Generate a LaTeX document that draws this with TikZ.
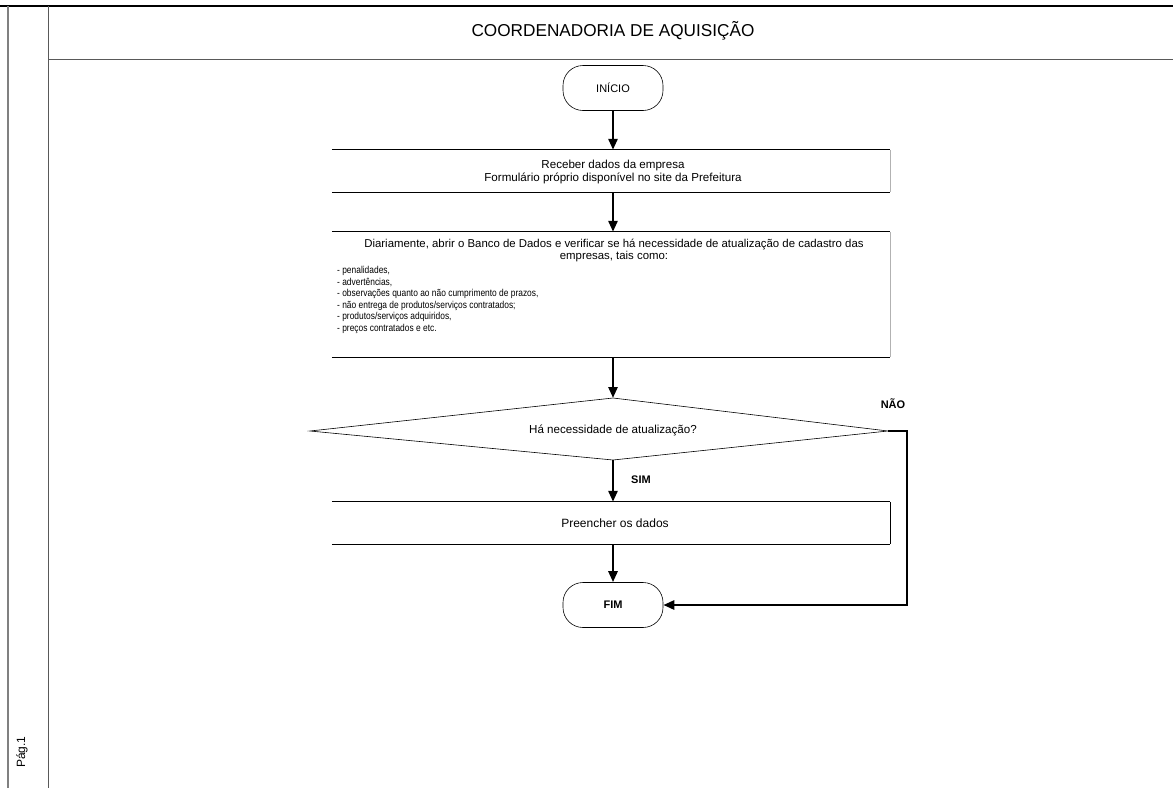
\documentclass[tikz,border=0pt]{standalone}
\usepackage{fontspec}
\setmainfont{Liberation Sans}
\newfontfamily\listfont[FakeStretch=0.84]{Liberation Sans}
\usetikzlibrary{arrows.meta}
\begin{document}
\begin{tikzpicture}[x=1pt,y=-1pt,
  txt/.style={font=\fontsize{11.6}{13.5}\selectfont, inner sep=0pt},
  term/.style={draw, line width=0.6pt, rounded corners=20pt, minimum width=100pt, minimum height=45pt, font=\fontsize{11}{12}\selectfont},
  boxnode/.style={draw=none, minimum width=558pt, inner sep=0pt},
  hline/.style={line width=0.8pt},
  sline/.style={line width=0.5pt, gray!60},
  flow/.style={line width=2.6pt, -{Triangle[length=11pt,width=9pt]}},
  lbl/.style={font=\bfseries\fontsize{11}{12}\selectfont, inner sep=0pt}
]
\useasboundingbox (0,0) rectangle (1173,788);
% frame
\draw[line width=1.2pt] (0,6) -- (1173,6);
\draw[line width=1.6pt, gray] (8,6) -- (8,788);
\draw[line width=0.6pt, gray!70!black] (48,6) -- (48,788);
\draw[line width=1pt, gray!70!black] (48,59) -- (1173,59);
\node[font=\fontsize{17.2}{19}\selectfont, inner sep=0pt] (title) at (613,31) {COORDENADORIA DE AQUISIÇÃO};
\node[font=\fontsize{12}{13}\selectfont, inner sep=0pt, rotate=90] (pag) at (22,752) {Pág.1};

% start
\node[term] (ini) at (613,88) {INÍCIO};

% box 1
\node[boxnode, minimum height=42pt] (b1) at (611,171) {};
\node[txt, align=center] (t1) at (613,172) {Receber dados da empresa\\Formulário próprio disponível no site da Prefeitura};
\draw[hline] (b1.north west) -- (b1.north east);
\draw[hline] (b1.south west) -- (b1.south east);
\draw[sline] (b1.north east) -- (b1.south east);

% box 2
\node[boxnode, minimum height=125pt] (b2) at (611,294.5) {};
\node[txt, font=\fontsize{11.4}{12.5}\selectfont, align=center, anchor=north] (t2a) at (614,238.5) {Diariamente, abrir o Banco de Dados e verificar se há necessidade de atualização de cadastro das\\empresas, tais como:};
\node[inner sep=0pt, anchor=north west, align=left, font=\listfont\fontsize{10}{11.5}\selectfont] (t2b) at (337,266.5) {%
- penalidades,\\
- advertências,\\
- observações quanto ao não cumprimento de prazos,\\
- não entrega de produtos/serviços contratados;\\
- produtos/serviços adquiridos,\\
- preços contratados e etc.};
\draw[hline] (b2.north west) -- (b2.north east);
\draw[hline] (b2.south west) -- (b2.south east);
\draw[sline] (b2.north east) -- (b2.south east);

% decision (drawn directly, asymmetric)
\coordinate (dT) at (613,398);
\coordinate (dR) at (888,431);
\coordinate (dB) at (613,460);
\coordinate (dL) at (310,431);
\draw[line width=0.6pt] (dT) -- (dR) -- (dB) -- (dL) -- cycle;
\node[txt] (d) at (613,430) {Há necessidade de atualização?};

% box 3
\node[boxnode, minimum height=42pt] (b3) at (611,523) {};
\node[txt, font=\fontsize{12}{13}\selectfont] (t3) at (615,523) {Preencher os dados};
\draw[hline] (b3.north west) -- (b3.north east);
\draw[hline] (b3.south west) -- (b3.south east);
\draw[line width=0.6pt] (b3.north east) -- (b3.south east);

% end
\node[term] (fim) at (613,605) {\bfseries FIM};

% connectors
\draw[flow] (ini.south) -- (b1.north -| ini.south);
\draw[flow] (b1.south -| ini.south) -- (b2.north -| ini.south);
\draw[flow] (b2.south -| ini.south) -- (dT);
\draw[flow] (dB) -- (b3.north -| dB);
\draw[flow] (b3.south -| ini.south) -- (fim.north);
\coordinate (nc) at (907,431);
\draw[flow] (dR) -- (nc) |- (fim.east);

\node[lbl] (sim) at (641,480) {SIM};
\node[lbl] (nao) at (893,404) {NÃO};
\end{tikzpicture}
\end{document}
